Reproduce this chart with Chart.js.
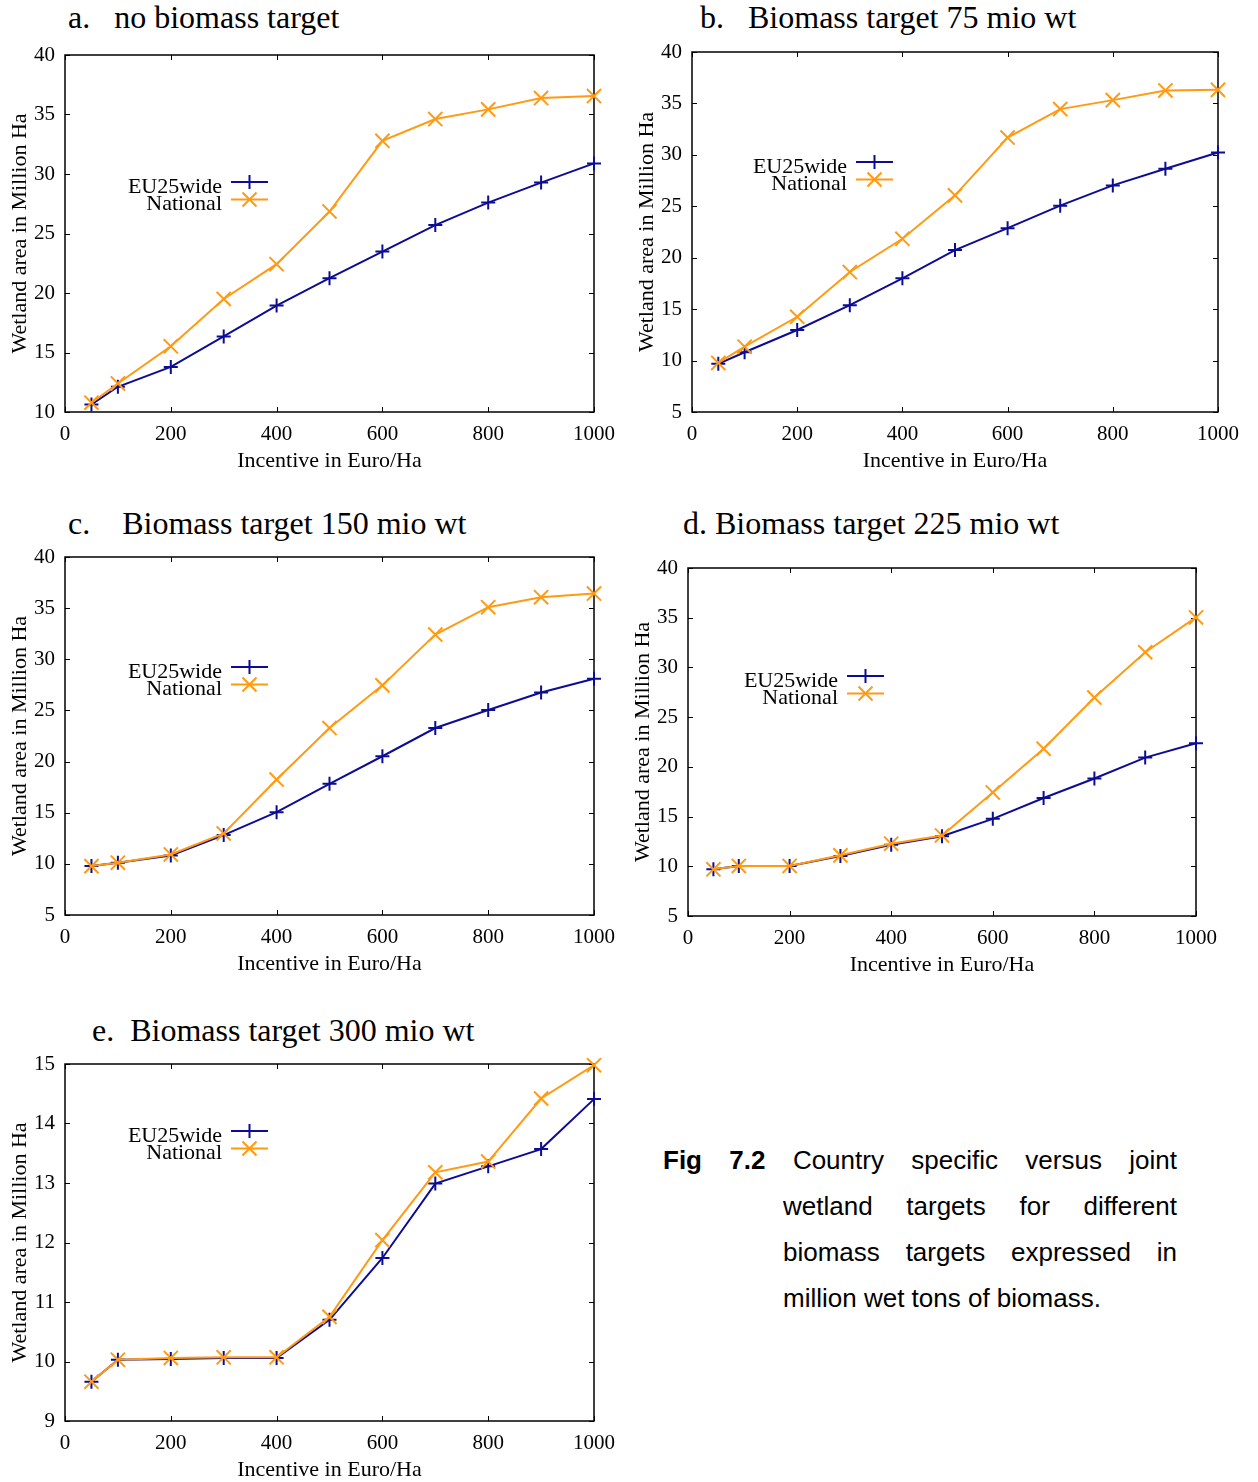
<!DOCTYPE html>
<html><head><meta charset="utf-8">
<script src="https://cdn.jsdelivr.net/npm/chart.js@4.4.1/dist/chart.umd.min.js"></script>
<style>
html,body{margin:0;padding:0;background:#fff;overflow:hidden;width:1258px;height:1482px;}
canvas{position:absolute;}
.t{position:absolute;font-family:"Liberation Serif","Times New Roman",serif;font-size:32px;line-height:36px;white-space:pre;color:#000;}
.cap{position:absolute;left:663px;top:1137px;width:514px;font-family:"Liberation Sans",Arial,sans-serif;font-size:26px;line-height:46px;color:#000;}
.cap .j{text-align:justify;text-align-last:justify;}
.cap .in{margin-left:120px;}
</style>
</head>
<body>
<div class="t" style="left:68px;top:-1px">a.   no biomass target</div>
<div class="t" style="left:700px;top:-1px">b.   Biomass target 75 mio wt</div>
<div class="t" style="left:68px;top:505px">c.    Biomass target 150 mio wt</div>
<div class="t" style="left:683px;top:505px">d. Biomass target 225 mio wt</div>
<div class="t" style="left:92px;top:1012px">e.  Biomass target 300 mio wt</div>
<div class="cap">
  <div class="j"><b>Fig 7.2</b> Country specific versus joint</div>
  <div class="j in">wetland targets for different</div>
  <div class="j in">biomass targets expressed in</div>
  <div class="in">million wet tons of biomass.</div>
</div>
<script>
// ---- data ----
const incentive = [50, 100, 200, 300, 400, 500, 600, 700, 800, 900, 1000];
const xTickValues = [0, 200, 400, 600, 800, 1000];
const yTicksA = [10, 15, 20, 25, 30, 35, 40];
const yTicksBCD = [5, 10, 15, 20, 25, 30, 35, 40];
const yTicksE = [9, 10, 11, 12, 13, 14, 15];

const eu25A = [10.64, 12.12, 13.79, 16.35, 18.94, 21.25, 23.48, 25.71, 27.6, 29.28, 30.89];
const natA  = [10.78, 12.4, 15.52, 19.5, 22.42, 26.85, 32.79, 34.62, 35.43, 36.38, 36.55];
const eu25B = [9.68, 10.81, 12.97, 15.39, 18.0, 20.74, 22.87, 25.06, 27.03, 28.65, 30.23];
const natB  = [9.77, 11.35, 14.26, 18.61, 21.84, 26.06, 31.68, 34.45, 35.32, 36.26, 36.32];
const eu25C = [9.78, 10.11, 10.82, 12.81, 15.05, 17.82, 20.52, 23.28, 25.04, 26.76, 28.1];
const natC  = [9.78, 10.11, 10.92, 12.97, 18.24, 23.28, 27.45, 32.42, 35.09, 36.07, 36.43];
const eu25D = [9.7, 10.03, 10.03, 11.03, 12.17, 13.03, 14.77, 16.87, 18.83, 20.93, 22.37];
const natD  = [9.7, 10.03, 10.03, 11.1, 12.27, 13.1, 17.43, 21.83, 26.97, 31.53, 35.03];
const eu25E = [9.66, 10.03, 10.04, 10.06, 10.06, 10.7, 11.74, 12.99, 13.28, 13.57, 14.41];
const natE  = [9.66, 10.03, 10.06, 10.07, 10.07, 10.75, 12.04, 13.18, 13.36, 14.42, 14.98];

const seriesNames = ['EU25wide', 'National'];
const xTitle = 'Incentive in Euro/Ha';
const yTitle = 'Wetland area in Million Ha';

// ---- styling ----
const BLUE = '#0c0c94';
const ORANGE = '#ff9a12';
const SERIF = '"Liberation Serif", "Times New Roman", serif';
const PAD_TOP = 25;

function drawMarker(ctx, style, x, y, color) {
  ctx.save();
  ctx.strokeStyle = color; ctx.lineWidth = 2;
  ctx.beginPath();
  if (style === 'cross') {
    ctx.moveTo(x - 7, y); ctx.lineTo(x + 7, y);
    ctx.moveTo(x, y - 7); ctx.lineTo(x, y + 7);
  } else {
    const d = 7;
    ctx.moveTo(x - d, y - d); ctx.lineTo(x + d, y + d);
    ctx.moveTo(x - d, y + d); ctx.lineTo(x + d, y - d);
  }
  ctx.stroke();
  ctx.restore();
}

const gnuFrame = {
  id: 'gnuFrame',
  beforeDatasetsDraw(chart) {
    const {ctx, chartArea: a, scales} = chart;
    ctx.save();
    ctx.strokeStyle = '#000';
    ctx.lineWidth = 1.5;
    ctx.strokeRect(a.left, a.top, a.right - a.left, a.bottom - a.top);
    ctx.lineWidth = 1;
    ctx.beginPath();
    scales.x.ticks.forEach(t => {
      const px = Math.round(scales.x.getPixelForValue(t.value)) + 0.5;
      ctx.moveTo(px, a.bottom); ctx.lineTo(px, a.bottom - 5);
      ctx.moveTo(px, a.top); ctx.lineTo(px, a.top + 5);
    });
    scales.y.ticks.forEach(t => {
      const py = Math.round(scales.y.getPixelForValue(t.value)) + 0.5;
      ctx.moveTo(a.left, py); ctx.lineTo(a.left + 5, py);
      ctx.moveTo(a.right, py); ctx.lineTo(a.right - 5, py);
    });
    ctx.stroke();
    ctx.restore();
  }
};

const gnuLegend = {
  id: 'gnuLegend',
  afterDraw(chart, args, opts) {
    const {ctx, chartArea: a} = chart;
    const tx = a.left + opts.x;
    chart.data.datasets.forEach((ds, i) => {
      const ly = a.top + opts.y + i * 17.5;
      ctx.save();
      ctx.font = '22px ' + SERIF;
      ctx.fillStyle = '#000';
      ctx.textAlign = 'right';
      ctx.textBaseline = 'middle';
      ctx.fillText(ds.label, tx, ly + 5);
      ctx.strokeStyle = ds.borderColor;
      ctx.lineWidth = 2;
      ctx.beginPath();
      ctx.moveTo(tx + 9, ly); ctx.lineTo(tx + 46, ly);
      ctx.stroke();
      ctx.restore();
      drawMarker(ctx, ds.pointStyle, tx + 27.5, ly, ds.borderColor);
    });
  }
};

function makePanel(plot, eu, nat, yTicks, legendPos) {
  const [L, T, R, B] = plot;
  const cv = document.createElement('canvas');
  const w = R - L + 101, h = B - T + 78 + PAD_TOP;
  cv.width = w; cv.height = h;
  cv.style.left = (L - 65) + 'px';
  cv.style.top = (T - PAD_TOP) + 'px';
  cv.style.width = w + 'px'; cv.style.height = h + 'px';
  document.body.appendChild(cv);

  const mk = (arr) => incentive.map((x, i) => ({x: x, y: arr[i]}));
  new Chart(cv, {
    type: 'line',
    data: {
      datasets: [
        {label: seriesNames[0], data: mk(eu), borderColor: BLUE, backgroundColor: BLUE,
         borderWidth: 2, pointStyle: 'cross', pointRadius: 7, pointBorderWidth: 2,
         pointBorderColor: BLUE, order: 1, clip: false, tension: 0, fill: false},
        {label: seriesNames[1], data: mk(nat), borderColor: ORANGE, backgroundColor: ORANGE,
         borderWidth: 2, pointStyle: 'crossRot', pointRadius: 10, pointBorderWidth: 2,
         pointBorderColor: ORANGE, order: 0, clip: false, tension: 0, fill: false}
      ]
    },
    options: {
      responsive: false,
      animation: false,
      devicePixelRatio: 1,
      layout: {padding: {top: PAD_TOP, right: 36, bottom: 0, left: 0}},
      plugins: {
        legend: {display: false},
        tooltip: {enabled: false},
        gnuLegend: legendPos
      },
      scales: {
        x: {
          type: 'linear', min: 0, max: 1000,
          afterBuildTicks: s => { s.ticks = xTickValues.map(v => ({value: v})); },
          afterFit: s => { s.height = 78; },
          grid: {display: false, drawTicks: false},
          border: {display: false},
          ticks: {padding: 10, color: '#000', font: {family: SERIF, size: 21}, maxRotation: 0, autoSkip: false,
                  callback: v => String(v)},
          title: {display: true, text: xTitle, color: '#000', font: {family: SERIF, size: 22}, padding: {top: 0, bottom: 16}}
        },
        y: {
          type: 'linear', min: yTicks[0], max: yTicks[yTicks.length - 1],
          afterBuildTicks: s => { s.ticks = yTicks.map(v => ({value: v})); },
          afterFit: s => { s.width = 65; },
          grid: {display: false, drawTicks: false},
          border: {display: false},
          ticks: {padding: 10, color: '#000', font: {family: SERIF, size: 21}, autoSkip: false,
                  callback: v => String(v)},
          title: {display: true, text: yTitle, color: '#000', font: {family: SERIF, size: 22}, padding: {top: 7, bottom: 0}}
        }
      }
    },
    plugins: [gnuFrame, gnuLegend]
  });
}

makePanel([65, 55, 594, 412], eu25A, natA, yTicksA, {x: 157, y: 127});
makePanel([692, 52, 1218, 412], eu25B, natB, yTicksBCD, {x: 155, y: 110});
makePanel([65, 557, 594, 915], eu25C, natC, yTicksBCD, {x: 157, y: 110});
makePanel([688, 568, 1196, 916], eu25D, natD, yTicksBCD, {x: 150, y: 108});
makePanel([65, 1064, 594, 1421], eu25E, natE, yTicksE, {x: 157, y: 67});
</script>
</body></html>
